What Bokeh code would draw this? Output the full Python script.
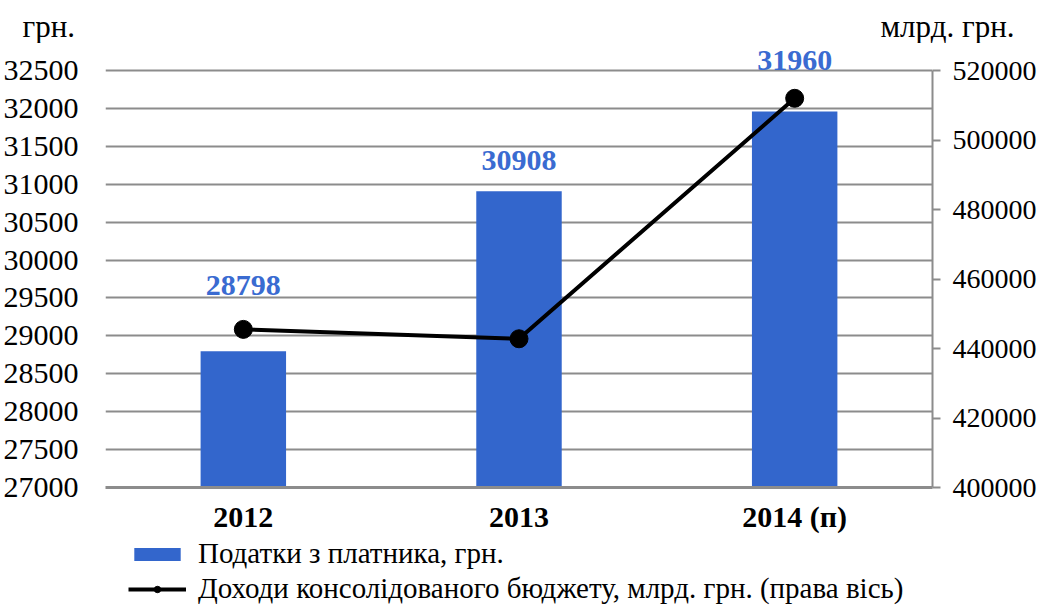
from bokeh.plotting import figure
from bokeh.models import (FactorRange, Range1d, LinearAxis, Legend, LegendItem,
                          ColumnDataSource, LabelSet, FixedTicker,
                          BasicTickFormatter)
from bokeh.core.properties import value
from bokeh.embed import file_html
from bokeh.resources import INLINE

years = ["2012", "2013", "2014 (п)"]
taxes = [28798, 30908, 31960]
revenue = [445500, 442800, 512000]
left_ticks = [27000, 27500, 28000, 28500, 29000, 29500, 30000, 30500,
              31000, 31500, 32000, 32500]
right_ticks = [400000, 420000, 440000, 460000, 480000, 500000, 520000]
left_unit = "грн."
right_unit = "млрд. грн."
series_names = ["Податки з платника, грн.",
                "Доходи консолідованого бюджету, млрд. грн. (права вісь)"]
label_offsets = [66, 31, 51]

FONT = "Liberation Serif"
BAR = "#3366CC"
LBL = "#3A6BD1"
GRID = "#8C8C8C"

W = 1041
HEAD_H = 43
LEG_H = 70
PLOT_H = 417          # height of the 27000..32500 part
EXT = 27              # extra frame room above 32500 for the top value label
L0, L1 = left_ticks[0], left_ticks[-1]
R0, R1 = right_ticks[0], right_ticks[-1]
ltop = L0 + (L1 - L0) * (PLOT_H + EXT) / PLOT_H
rtop = R0 + (R1 - R0) * (PLOT_H + EXT) / PLOT_H


def blank(height):
    f = figure(width=W, height=height, x_range=Range1d(0, W), y_range=Range1d(0, height),
               x_axis_type=None, y_axis_type=None, output_backend="svg",
               toolbar_location=None, min_border=0)
    f.outline_line_color = None
    f.grid.visible = False
    return f


# ---- header strip with the unit captions
h = blank(HEAD_H)
h.text(x=[22], y=[17], text=[left_unit], text_font=value(FONT), text_font_size="31px",
       text_baseline="middle", text_align="left", text_color="black")
h.text(x=[880], y=[17], text=[right_unit], text_font=value(FONT), text_font_size="31px",
       text_baseline="middle", text_align="left", text_color="black")

# ---- main chart
src = ColumnDataSource(dict(x=years, taxes=taxes, revenue=revenue,
                            txt=[str(v) for v in taxes], off=label_offsets))

p = figure(width=W, frame_height=PLOT_H + EXT, x_range=FactorRange(*years),
           y_range=Range1d(L0, ltop), output_backend="svg",
           toolbar_location=None, min_border_left=104, min_border_right=109,
           min_border_top=0, min_border_bottom=0)
p.extra_y_ranges = {"right": Range1d(R0, rtop)}
p.outline_line_color = None
p.background_fill_color = "white"

p.vbar(x="x", top="taxes", bottom=L0, width=0.31, source=src,
       fill_color=BAR, line_color=None)
p.line(x="x", y="revenue", source=src, y_range_name="right",
       line_color="black", line_width=4)
p.scatter(x="x", y="revenue", source=src, y_range_name="right",
          size=18, fill_color="black", line_color="black")

labels = LabelSet(x="x", y="taxes", text="txt", source=src, y_offset="off",
                  text_align="center", text_baseline="middle",
                  text_font=FONT, text_font_size="30px", text_font_style="bold",
                  text_color=LBL)
p.add_layout(labels)

# left axis
ya = p.yaxis[0]
ya.ticker = FixedTicker(ticks=left_ticks)
ya.formatter = BasicTickFormatter(use_scientific=False)
ya.axis_line_color = None
ya.major_tick_line_color = None
ya.major_tick_in = 0
ya.major_tick_out = 0
ya.minor_tick_line_color = None
ya.major_label_standoff = 27
ya.major_label_text_font = FONT
ya.major_label_text_font_size = "30px"
ya.major_label_text_color = "black"

# right axis
ra = LinearAxis(y_range_name="right", ticker=FixedTicker(ticks=right_ticks),
                formatter=BasicTickFormatter(use_scientific=False),
                bounds=(R0, R1))
ra.axis_line_color = GRID
ra.axis_line_width = 2
ra.major_tick_line_color = GRID
ra.major_tick_line_width = 2
ra.major_tick_in = 0
ra.major_tick_out = 8
ra.minor_tick_line_color = None
ra.minor_tick_out = 0
ra.major_label_standoff = 12
ra.major_label_text_font = FONT
ra.major_label_text_font_size = "28px"
ra.major_label_text_color = "black"
p.add_layout(ra, "right")

# x axis
xa = p.xaxis[0]
xa.axis_line_color = GRID
xa.axis_line_width = 3
xa.major_tick_line_color = None
xa.major_tick_in = 0
xa.major_tick_out = 0
xa.minor_tick_line_color = None
xa.major_label_standoff = 12
xa.major_label_text_font = FONT
xa.major_label_text_font_size = "30px"
xa.major_label_text_font_style = "bold"
xa.major_label_text_color = "black"

p.xgrid.grid_line_color = None
p.ygrid.grid_line_color = GRID
p.ygrid.grid_line_width = 2
p.ygrid.ticker = FixedTicker(ticks=left_ticks)

# ---- legend strip (sample glyphs sit outside the visible range)
lf = blank(LEG_H)
lb = lf.vbar(x=[-500], top=[-500], bottom=-600, width=10, fill_color=BAR, line_color=None)
ll = lf.line(x=[-500, -490], y=[-500, -500], line_color="black", line_width=4)
ls = lf.scatter(x=[-500], y=[-500], size=18, fill_color="black", line_color="black")
legend = Legend(items=[
    LegendItem(label=series_names[0], renderers=[lb]),
    LegendItem(label=series_names[1], renderers=[ll, ls]),
], orientation="vertical", location=(128, 0))
legend.label_text_font = FONT
legend.label_text_font_size = "29px"
legend.label_text_color = "black"
legend.glyph_width = 58
legend.glyph_height = 16
legend.label_standoff = 12
legend.spacing = 2
legend.padding = 0
legend.margin = 0
legend.border_line_color = None
legend.background_fill_alpha = 0
lf.add_layout(legend)

open("out.html", "w").write(file_html([h, p, lf], INLINE))
